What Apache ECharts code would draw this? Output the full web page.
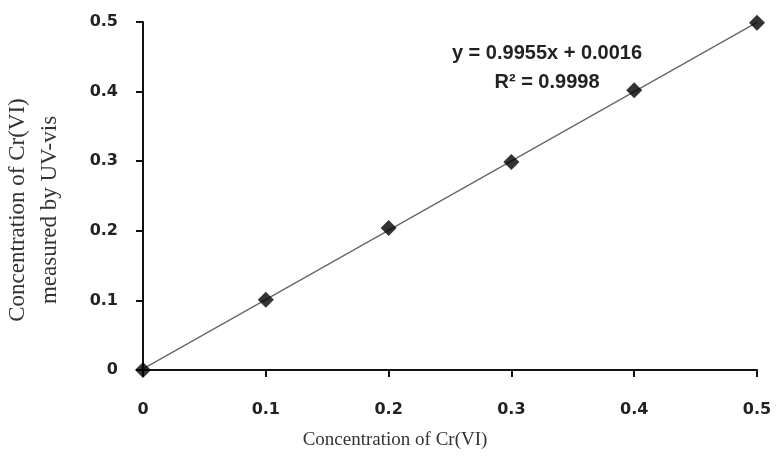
<!DOCTYPE html>
<html>
<head>
<meta charset="utf-8">
<script src="https://cdn.jsdelivr.net/npm/echarts@6/dist/echarts.min.js"></script>
<style>html,body{margin:0;padding:0;background:#fff}#c{width:779px;height:468px}</style>
</head>
<body>
<div id="c"></div>
<script>
var xValues = [0, 0.1, 0.2, 0.3, 0.4, 0.5];
var yValues = [0, 0.101, 0.204, 0.299, 0.402, 0.499];
var trendX = [0, 0.5];
var trendY = [0.0016, 0.4994];
var xTitle = 'Concentration of Cr(VI)';
var yTitle = ['Concentration of Cr(VI)', 'measured by UV-vis'];
var eqLines = ['y = 0.9955x + 0.0016', 'R\u00B2 = 0.9998'];

var chart = echarts.init(document.getElementById('c'), null, {renderer: 'canvas'});
var axisCommon = {
  type: 'value', min: 0, max: 0.5, interval: 0.1,
  axisLine: {show: true, onZero: false, lineStyle: {color: '#111', width: 2}},
  axisTick: {show: true, inside: false, length: 7, lineStyle: {color: '#111', width: 2}},
  splitLine: {show: false},
  axisLabel: {fontFamily: 'DejaVu Sans', fontWeight: 'bold', fontSize: 16, color: '#222',
    formatter: function (v) { return v === 0 ? '0' : v.toFixed(1); }}
};
chart.setOption({
  backgroundColor: '#fff',
  animation: false,
  grid: {left: 143, right: 22, top: 22, bottom: 98},
  xAxis: Object.assign({}, axisCommon, {axisLabel: Object.assign({}, axisCommon.axisLabel, {margin: 32})}),
  yAxis: Object.assign({}, axisCommon, {axisLabel: Object.assign({}, axisCommon.axisLabel, {margin: 25})}),
  series: [
    {
      type: 'line', data: trendX.map(function (x, i) { return [x, trendY[i]]; }),
      symbol: 'none', lineStyle: {color: '#666', width: 1.3}, z: 2
    },
    {
      type: 'scatter', data: xValues.map(function (x, i) { return [x, yValues[i]]; }),
      symbol: 'diamond', symbolSize: 16, itemStyle: {color: '#000'}, clip: false, z: 3
    }
  ],
  graphic: [
    {type: 'text', position: [395, 440], style: {text: xTitle, font: '19px "Liberation Serif"', fill: '#333', textAlign: 'center', textVerticalAlign: 'middle'}},
    {type: 'text', position: [18, 210], rotation: Math.PI / 2, style: {text: yTitle[0], font: '23px "Liberation Serif"', fill: '#333', textAlign: 'center', textVerticalAlign: 'middle'}},
    {type: 'text', position: [50, 210], rotation: Math.PI / 2, style: {text: yTitle[1], font: '23px "Liberation Serif"', fill: '#333', textAlign: 'center', textVerticalAlign: 'middle'}},
    {type: 'text', position: [547, 53], style: {text: eqLines[0], font: 'bold 20px "Liberation Sans"', fill: '#222', textAlign: 'center', textVerticalAlign: 'middle'}},
    {type: 'text', position: [547, 82], style: {text: eqLines[1], font: 'bold 20px "Liberation Sans"', fill: '#222', textAlign: 'center', textVerticalAlign: 'middle'}}
  ]
});
</script>
</body>
</html>
